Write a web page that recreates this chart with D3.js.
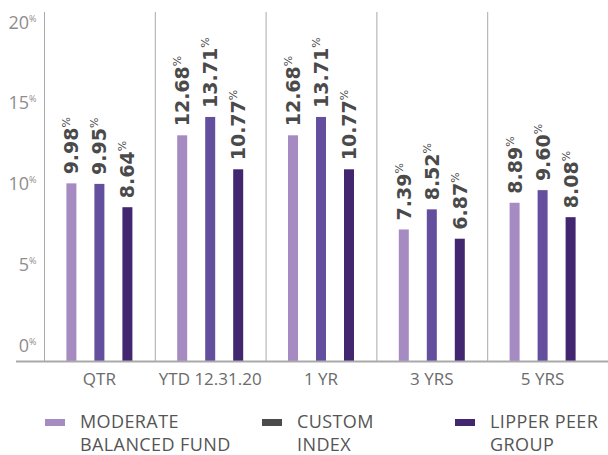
<!DOCTYPE html>
<html>
<head>
<meta charset="utf-8">
<script src="https://cdn.jsdelivr.net/npm/d3@7"></script>
<style>
  body { margin: 0; background: #fff; }
  text { font-family: "Open Sans", "DejaVu Sans", sans-serif; }
</style>
</head>
<body>
<script>
const width = 608;
const height = 455;

// data
const periods = ["QTR", "YTD 12.31.20", "1 YR", "3 YRS", "5 YRS"];
const series = ["MODERATE BALANCED FUND", "CUSTOM INDEX", "LIPPER PEER GROUP"];
const fund = [9.98, 12.68, 12.68, 7.39, 8.89];
const customIndex = [9.95, 13.71, 13.71, 8.52, 9.60];
const lipper = [8.64, 10.77, 10.77, 6.87, 8.08];
const yTicks = [0, 5, 10, 15, 20];
const legendLines = [["MODERATE", "BALANCED FUND"], ["CUSTOM", "INDEX"], ["LIPPER PEER", "GROUP"]];

const barColors = ["#a68bc3", "#644f9f", "#42266f"];
const legendColors = ["#a68bc3", "#4b4b4b", "#42266f"];

const baseY = 361;

const svg = d3.select("body").append("svg").attr("width", width).attr("height", height);

const xScale = d3.scaleBand().domain(periods).range([44, 598]);
const inner = d3.scaleBand().domain(series).range([-42, 42]);
const yScale = d3.scaleLinear().domain([0, 20]).range([baseY, baseY - 20 * 17.8]);
const tickScale = d3.scaleLinear().domain([0, 20]).range([351, 28]);

// separators
svg.selectAll("line.sep").data(periods).enter().append("line")
  .attr("x1", d => xScale(d) + 0.5).attr("x2", d => xScale(d) + 0.5)
  .attr("y1", 12).attr("y2", baseY)
  .attr("stroke", "#a9a9a9").attr("stroke-width", 1);

// y tick labels
const yAxis = svg.append("g").attr("transform", "translate(29,0)")
  .call(d3.axisLeft(tickScale).tickValues(yTicks).tickSize(0).tickFormat(d => d));
yAxis.select(".domain").remove();
yAxis.selectAll("text")
  .attr("x", 0).attr("dy", 0)
  .attr("fill", "#8e8e8e").style("font-size", "18px").style("font-family", "Open Sans, sans-serif");
yAxis.selectAll(".tick").append("text")
  .attr("x", 0).attr("y", -7)
  .attr("text-anchor", "start")
  .attr("fill", "#8e8e8e").style("font-size", "9px")
  .text("%");

const rows = periods.map((p, i) => ({ p, vals: [fund[i], customIndex[i], lipper[i]] }));

const groups = svg.selectAll("g.grp").data(rows).enter().append("g")
  .attr("transform", d => `translate(${xScale(d.p) + xScale.bandwidth() / 2},0)`);

const cells = groups.selectAll("g.cell")
  .data(d => d.vals.map((v, j) => ({ v, s: series[j], j })))
  .enter().append("g");

cells.append("rect")
  .attr("x", d => inner(d.s) + inner.bandwidth() / 2 - 5)
  .attr("y", d => yScale(d.v))
  .attr("width", 10)
  .attr("height", d => baseY - yScale(d.v))
  .attr("fill", d => barColors[d.j]);

const vlab = cells.append("text")
  .attr("transform", d => `translate(${inner(d.s) + inner.bandwidth() / 2 + 7},${yScale(d.v) - 9}) rotate(-90)`)
  .attr("fill", "#4a4a4a")
  .style("font-family", "DejaVu Sans, sans-serif")
  .style("font-size", "19px").style("font-weight", "700");
vlab.append("tspan").text(d => d.v.toFixed(2));
vlab.append("tspan").attr("dy", -8).style("font-size", "11px").style("font-weight", "400").text("%");

// bottom axis line
svg.append("line").attr("x1", 16).attr("x2", 608).attr("y1", baseY + 0.5).attr("y2", baseY + 0.5)
  .attr("stroke", "#a9a9a9").attr("stroke-width", 2);

// x labels
const xAxis = svg.append("g").attr("transform", `translate(0,${baseY})`)
  .call(d3.axisBottom(xScale).tickSize(0));
xAxis.select(".domain").remove();
xAxis.selectAll("text")
  .attr("y", 24).attr("dy", 0)
  .attr("fill", "#6b6b6b").style("font-size", "17px").style("font-family", "Open Sans, sans-serif");

// legend
const legX = [45, 262, 455];
const leg = svg.selectAll("g.leg").data(series).enter().append("g")
  .attr("transform", (d, i) => `translate(${legX[i]},0)`);
leg.append("rect").attr("x", 0).attr("y", 419).attr("width", 20).attr("height", 7)
  .attr("fill", (d, i) => legendColors[i]);
leg.append("text").attr("x", 35).attr("y", 428)
  .attr("fill", "#555").style("font-size", "18px").style("letter-spacing", "0.4px")
  .selectAll("tspan").data((d, i) => legendLines[i]).enter().append("tspan")
  .attr("x", 35).attr("dy", (d, k) => k === 0 ? 0 : 23)
  .text(d => d);
</script>
</body>
</html>
